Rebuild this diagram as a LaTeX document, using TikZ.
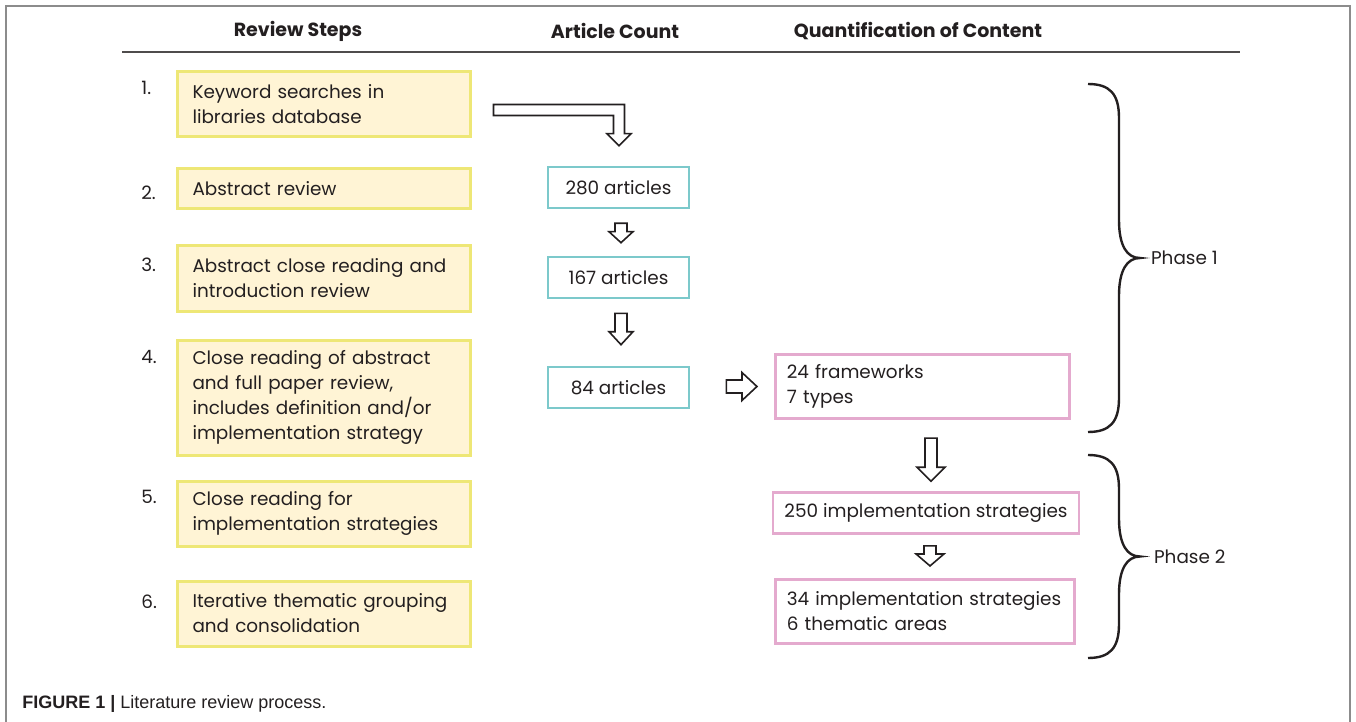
\documentclass[tikz,border=0pt]{standalone}
\usepackage{fontspec}
\setmainfont{Poppins}
\newfontfamily\capfont{Liberation Sans}
\usetikzlibrary{calc}

\definecolor{ink}{RGB}{35,31,32}
\definecolor{stepfill}{RGB}{255,244,213}
\definecolor{stepline}{RGB}{238,231,118}
\definecolor{countline}{RGB}{124,201,203}
\definecolor{quantline}{RGB}{228,170,206}
\definecolor{framegray}{RGB}{140,140,140}

\tikzset{
  every node/.style={text=ink, font=\fontsize{9.2}{12.5}\selectfont},
  head/.style={font=\fontsize{9.5}{12}\selectfont\bfseries},
  stepbox/.style={draw=stepline, fill=stepfill, line width=1.5pt, anchor=north west,
    text width=131pt, inner xsep=7.75pt, inner ysep=0pt, align=left},
  countbox/.style={draw=countline, line width=1.3pt, minimum width=70.5pt,
    minimum height=20.5pt, inner sep=0pt},
  quantbox/.style={draw=quantline, line width=1.3pt, inner xsep=5.8pt, inner ysep=0pt},
  stepnum/.style={anchor=base west, inner sep=0pt},
  hollow/.style={draw=ink, line width=0.8pt, fill=white, line join=miter},
  brace/.style={draw=ink, line width=1.2pt},
}

% hollow block arrow pointing down: start, tip, shaft half, head half, head length
\newcommand\blockdown[5]{%
  \path[hollow] let \p1=#1, \p2=#2 in
    (\x2-#3,\y1) -- (\x2+#3,\y1) -- (\x2+#3,\y2+#5) -- (\x2+#4,\y2+#5) -- (\x2,\y2)
    -- (\x2-#4,\y2+#5) -- (\x2-#3,\y2+#5) -- cycle;}

% curly bracket on the right, by top and bottom y
\newcommand\phasebrace[2]{%
  \path[brace] (1088,#1) .. controls (1110,#1) and (1119,{#1+10}) .. (1119,{#1+34})
    -- (1119,{(#1+#2)/2-38}) .. controls (1119,{(#1+#2)/2-12}) and (1127,{(#1+#2)/2}) .. (1140,{(#1+#2)/2})
    .. controls (1127,{(#1+#2)/2}) and (1119,{(#1+#2)/2+12}) .. (1119,{(#1+#2)/2+38})
    -- (1119,{#2-34}) .. controls (1119,{#2-10}) and (1110,#2) .. (1088,#2);}

\begin{document}
\begin{tikzpicture}[x=0.5pt,y=-0.5pt]
  \useasboundingbox (0,0) rectangle (1356,722);

  % frame
  \draw[framegray, line width=0.8pt] (6,722) -- (6,6) -- (1350,6) -- (1350,722);

  % column heads
  \node[head] (hsteps) at (298,31) {Review Steps};
  \node[head] (hcount) at (615,31) {Article Count};
  \node[head] (hquant) at (918,31) {Quantification of Content};
  \draw[ink!80, line width=0.7pt] (122,52) -- (1240,52);

  % review steps
  \node[stepbox, minimum height=32.5pt] (s1) at (175.5,70.5) {Keyword searches in\\libraries database};
  \node[stepbox, minimum height=20pt] (s2) at (175.5,167.5) {Abstract review};
  \node[stepbox, minimum height=33pt] (s3) at (175.5,243.5) {Abstract close reading and\\introduction review};
  \node[stepbox, minimum height=57.5pt] (s4) at (175.5,338.5) {Close reading of abstract\\and full paper review,\\includes definition and/or\\implementation strategy};
  \node[stepbox, minimum height=32.5pt] (s5) at (175.5,479.5) {Close reading for\\implementation strategies};
  \node[stepbox, minimum height=32.5pt] (s6) at (175.5,579.5) {Iterative thematic grouping\\and consolidation};

  \node[stepnum] (n1) at (141,95) {1.};
  \node[stepnum] (n2) at (141,199) {2.};
  \node[stepnum] (n3) at (141,271) {3.};
  \node[stepnum] (n4) at (141,363) {4.};
  \node[stepnum] (n5) at (141,503) {5.};
  \node[stepnum] (n6) at (141,608) {6.};

  % article counts
  \node[countbox] (c280) at (618.5,187.5) {280 articles};
  \node[countbox] (c167) at (618.5,277.5) {167 articles};
  \node[countbox] (c84) at (618.5,387.5) {84 articles};

  % quantification
  \node[quantbox, minimum width=147.25pt, minimum height=32.25pt, text width=135.6pt, align=left] (q24) at (922.5,386.5) {24 frameworks\\7 types};
  \node[quantbox, minimum width=150.75pt, minimum height=20.5pt] (q250) at (926,513) {250 implementation strategies};
  \node[quantbox, minimum width=149.75pt, minimum height=32.25pt, text width=138.1pt, align=left] (q34) at (925,611.5) {34 implementation strategies\\6 thematic areas};

  % bent arrow into the counts
  \path[hollow] let \p1=([xshift=11pt]s1.east), \p2=([xshift=0.25pt,yshift=10pt]c280.north) in
    (\x1,\y1) -- (\x2+2.75pt,\y1) -- (\x2+2.75pt,\y2+6pt) -- (\x2+6pt,\y2+6pt) -- (\x2,\y2)
    -- (\x2-6pt,\y2+6pt) -- (\x2-2.75pt,\y2+6pt) -- (\x2-2.75pt,\y1-5.5pt) -- (\x1,\y1-5.5pt) -- cycle;

  \blockdown{([xshift=1.25pt,yshift=-7pt]c280.south)}{([xshift=1.25pt,yshift=6.5pt]c167.north)}{3pt}{6pt}{5.5pt}
  \blockdown{([xshift=1.25pt,yshift=-7pt]c167.south)}{([xshift=1.25pt,yshift=10.5pt]c84.north)}{3pt}{6pt}{6.5pt}

  % right arrow
  \path[hollow] let \p1=([xshift=18pt]c84.east), \p2=([xshift=-8.5pt]q24.west) in
    (\x1,\y2+3.25pt) -- (\x2-7.5pt,\y2+3.25pt) -- (\x2-7.5pt,\y2+7pt) -- (\x2,\y2)
    -- (\x2-7.5pt,\y2-7pt) -- (\x2-7.5pt,\y2-3.25pt) -- (\x1,\y2-3.25pt) -- cycle;

  \blockdown{([xshift=2.5pt,yshift=-9pt]q24.south)}{([xshift=2.5pt,yshift=5pt]q250.north)}{3pt}{7pt}{7pt}
  \blockdown{([xshift=2.5pt,yshift=-5.5pt]q250.south)}{([xshift=2.5pt,yshift=6pt]q34.north)}{3pt}{7pt}{6pt}

  % phases
  \phasebrace{84}{432}
  \phasebrace{455}{658}
  \node[anchor=west] (ph1) at (1144,258) {Phase 1};
  \node[anchor=west] (ph2) at (1147,556.5) {Phase 2};

  % caption
  \node[anchor=west, inner sep=0pt, font=\capfont\fontsize{9}{11}\selectfont] (cap) at (22,704)
    {\textbf{FIGURE 1 |} Literature review process.};
\end{tikzpicture}
\end{document}
